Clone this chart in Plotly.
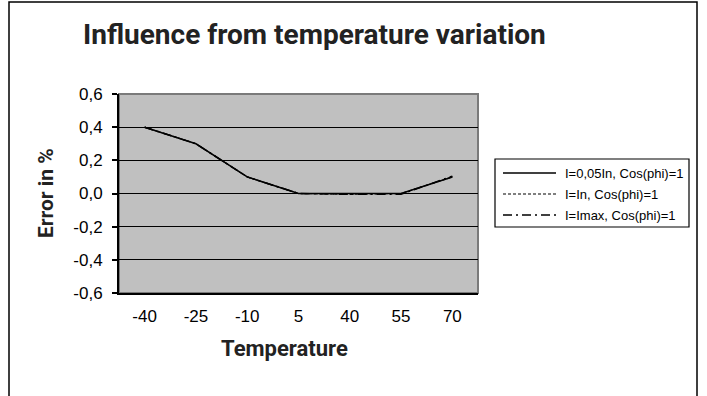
import plotly.graph_objects as go

temps = ["-40", "-25", "-10", "5", "40", "55", "70"]
s1_name = "I=0,05In, Cos(phi)=1"
s2_name = "I=In, Cos(phi)=1"
s3_name = "I=Imax, Cos(phi)=1"
s1 = [0.40, 0.30, 0.10, 0.00, 0.00, 0.00, 0.10]
s2 = [0.40, 0.30, 0.10, 0.00, -0.005, 0.00, 0.10]
s3 = [0.40, 0.30, 0.10, 0.00, -0.005, -0.005, 0.105]
yticks = [-0.6, -0.4, -0.2, 0.0, 0.2, 0.4, 0.6]
yticktext = ["-0,6", "-0,4", "-0,2", "0,0", "0,2", "0,4", "0,6"]

L, R, T, B = 119, 478, 94, 293
W, H = 707, 396
pw, ph = R - L, B - T

def px(x):
    return (x - L) / pw

def py(y):
    return (B - y) / ph

names = [s1_name, s2_name, s3_name]
dashes = ["solid", "3px,2px", "9px,4px,2px,4px"]
widths = [1.5, 1.2, 1.5]

fig = go.Figure()
for nm, ys, d, w in zip(names, [s1, s2, s3], dashes, widths):
    fig.add_trace(go.Scatter(x=temps, y=ys, name=nm, mode="lines",
                             line=dict(color="black", width=w, dash=d)))

shapes = [
    dict(type="rect", xref="paper", yref="paper", x0=0, x1=1, y0=0, y1=1,
         line=dict(color="#7a7a7a", width=2), layer="below"),
    dict(type="rect", xref="paper", yref="paper",
         x0=px(9), x1=px(697), y0=py(2), y1=py(420),
         line=dict(color="black", width=1.5), layer="above"),
    # legend box
    dict(type="rect", xref="paper", yref="paper",
         x0=px(495), x1=px(689), y0=py(159), y1=py(227),
         line=dict(color="black", width=1.2), fillcolor="white", layer="above"),
]
annotations = [
    dict(text="<b>Influence from temperature variation</b>", xref="paper", yref="paper",
         x=px(81), y=py(35), xanchor="left", yanchor="middle", showarrow=False,
         font=dict(family="Roboto", size=28, color="#222222")),
    dict(text="<b>Temperature</b>", xref="paper", yref="paper",
         x=px(284), y=py(348), xanchor="center", yanchor="middle", showarrow=False,
         font=dict(family="Roboto", size=22, color="#222222")),
    dict(text="<b>Error in %</b>", xref="paper", yref="paper",
         x=px(46), y=py(193), xanchor="center", yanchor="middle", showarrow=False,
         textangle=-90,
         font=dict(family="Roboto", size=21, color="#222222")),
]
rows_y = [173, 194, 215]
for nm, d, w, ry in zip(names, dashes, widths, rows_y):
    shapes.append(dict(type="line", xref="paper", yref="paper",
                       x0=px(503), x1=px(556), y0=py(ry), y1=py(ry),
                       line=dict(color="black", width=w, dash=d), layer="above"))
    annotations.append(dict(text=nm, xref="paper", yref="paper",
                            x=px(563), y=py(ry), xanchor="left", yanchor="middle",
                            showarrow=False,
                            font=dict(family="Liberation Sans", size=13, color="black")))

fig.update_layout(
    width=W, height=H,
    margin=dict(l=L, r=W - R, t=T, b=H - B, pad=0),
    paper_bgcolor="white",
    plot_bgcolor="#C0C0C0",
    showlegend=False,
    xaxis=dict(type="category", range=[-0.5, 6.5], showgrid=False,
               showline=True, linecolor="black", linewidth=2,
               ticks="", ticklabelstandoff=7,
               tickfont=dict(family="Liberation Sans", size=17, color="black"),
               zeroline=False),
    yaxis=dict(range=[-0.6, 0.6], tickvals=yticks, ticktext=yticktext,
               showgrid=True, gridcolor="black", gridwidth=1,
               zeroline=True, zerolinecolor="black", zerolinewidth=1,
               showline=True, linecolor="black", linewidth=2,
               ticks="outside", ticklen=5, tickcolor="black", tickwidth=1.5,
               ticklabelstandoff=6,
               tickfont=dict(family="Liberation Sans", size=17, color="black")),
    shapes=shapes,
    annotations=annotations,
)

fig.write_html("out.html")
